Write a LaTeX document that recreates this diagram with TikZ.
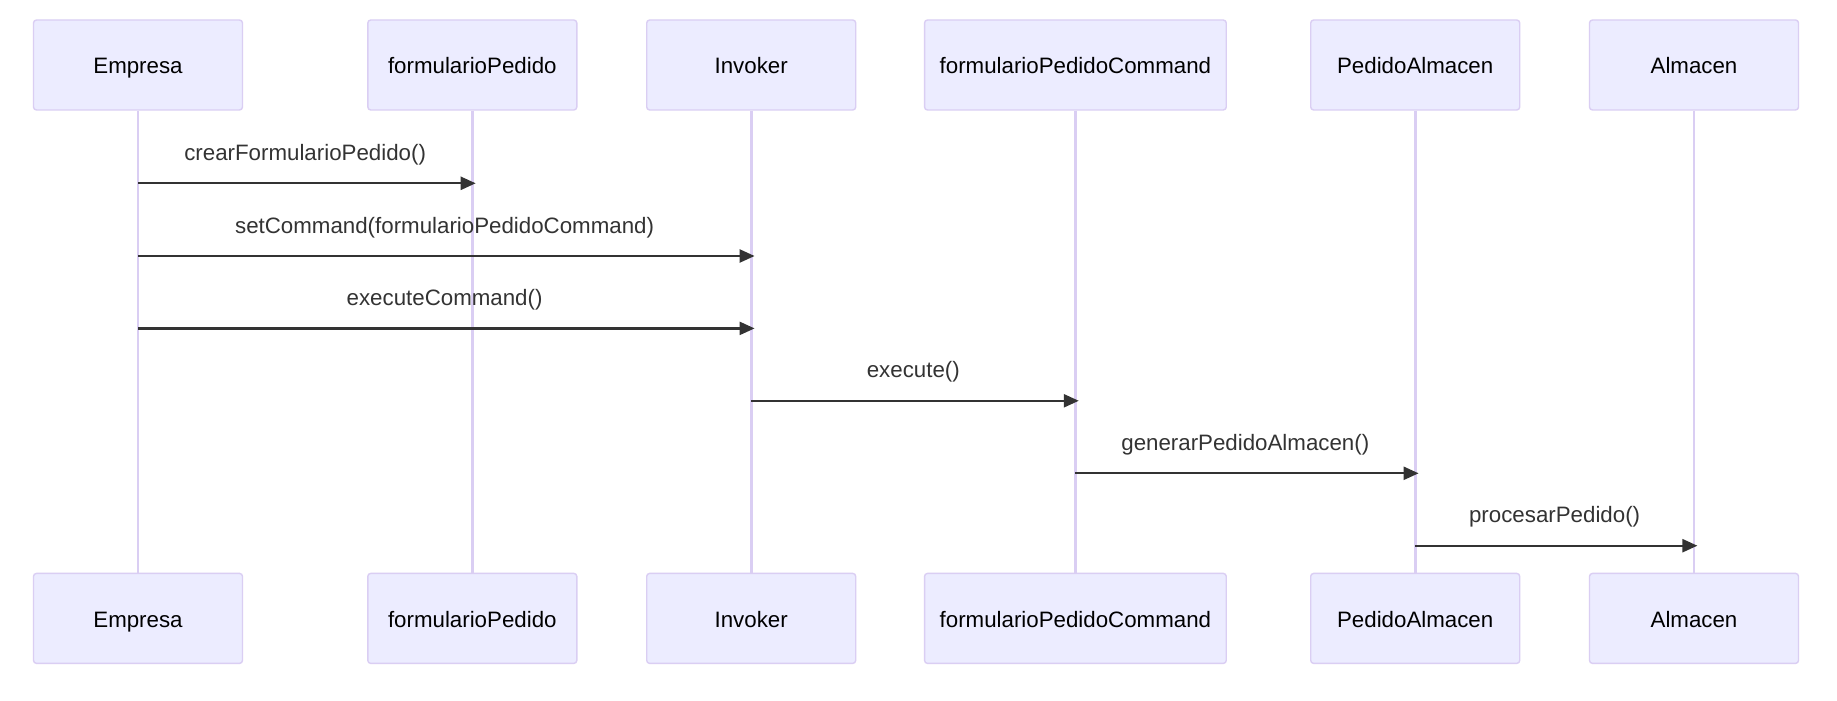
\documentclass[tikz,border=0pt]{standalone}
\usepackage{fontspec}
\setmainfont{Liberation Sans}
\usetikzlibrary{arrows.meta}
\definecolor{actfill}{HTML}{ECECFF}
\definecolor{actline}{HTML}{DACEF3}
\definecolor{msgcol}{HTML}{333333}
\tikzset{
  actor/.style={draw=actline, fill=actfill, line width=0.7pt, rounded corners=1.5pt,
    minimum height=45pt, minimum width=104.5pt, inner sep=0pt,
    text height=9pt, text depth=0pt,
    font=\fontsize{11.15pt}{13pt}\selectfont, text=black},
  wideactor/.style={actor, minimum width=150.85pt},
  lifeline/.style={draw=actline, line width=1.3pt},
  msg/.style={draw=msgcol, line width=1.15pt, -{Triangle[length=7.5pt,width=6.5pt]}, shorten >=-1.7pt},
  lbl/.style={anchor=base, yshift=11.5pt, inner sep=0pt, text=msgcol,
    font=\fontsize{11.15pt}{13pt}\selectfont},
}
\begin{document}
\begin{tikzpicture}[x=0.5pt,y=-0.5pt]
\useasboundingbox[fill=white] (0,0) rectangle (1837,701);
% top actors
\node[actor] (Et) at (138,65) {Empresa};
\node[actor] (Ft) at (472.3,65) {formularioPedido};
\node[actor] (It) at (751.2,65) {Invoker};
\node[wideactor] (Ct) at (1075.4,65) {formularioPedidoCommand};
\node[actor] (Pt) at (1415.2,65) {PedidoAlmacen};
\node[actor] (At) at (1694,65) {Almacen};
% bottom actors
\node[actor] (Eb) at (138,618.4) {Empresa};
\node[actor] (Fb) at (472.3,618.4) {formularioPedido};
\node[actor] (Ib) at (751.2,618.4) {Invoker};
\node[wideactor] (Cb) at (1075.4,618.4) {formularioPedidoCommand};
\node[actor] (Pb) at (1415.2,618.4) {PedidoAlmacen};
\node[actor] (Ab) at (1694,618.4) {Almacen};
% lifelines
\draw[lifeline] (Et.south) -- (Eb.north);
\draw[lifeline] (Ft.south) -- (Fb.north);
\draw[lifeline] (It.south) -- (Ib.north);
\draw[lifeline] (Ct.south) -- (Cb.north);
\draw[lifeline] (Pt.south) -- (Pb.north);
\draw[lifeline] (At.south) -- (Ab.north);
% message rows
\coordinate (r1) at (0,183.3);
\coordinate (r2) at (0,256);
\coordinate (r3) at (0,328.4);
\coordinate (r4) at (0,400.8);
\coordinate (r5) at (0,473.3);
\coordinate (r6) at (0,545.7);
% messages
\draw[msg] (Et |- r1) -- node[lbl] {crearFormularioPedido()} (Ft |- r1);
\draw[msg] (Et |- r2) -- node[lbl] {setCommand(formularioPedidoCommand)} (It |- r2);
\draw[msg] (Et |- r3) -- node[lbl] {executeCommand()} (It |- r3);
\draw[msg] (It |- r4) -- node[lbl] {execute()} (Ct |- r4);
\draw[msg] (Ct |- r5) -- node[lbl] {generarPedidoAlmacen()} (Pt |- r5);
\draw[msg] (Pt |- r6) -- node[lbl] {procesarPedido()} (At |- r6);
\end{tikzpicture}
\end{document}
